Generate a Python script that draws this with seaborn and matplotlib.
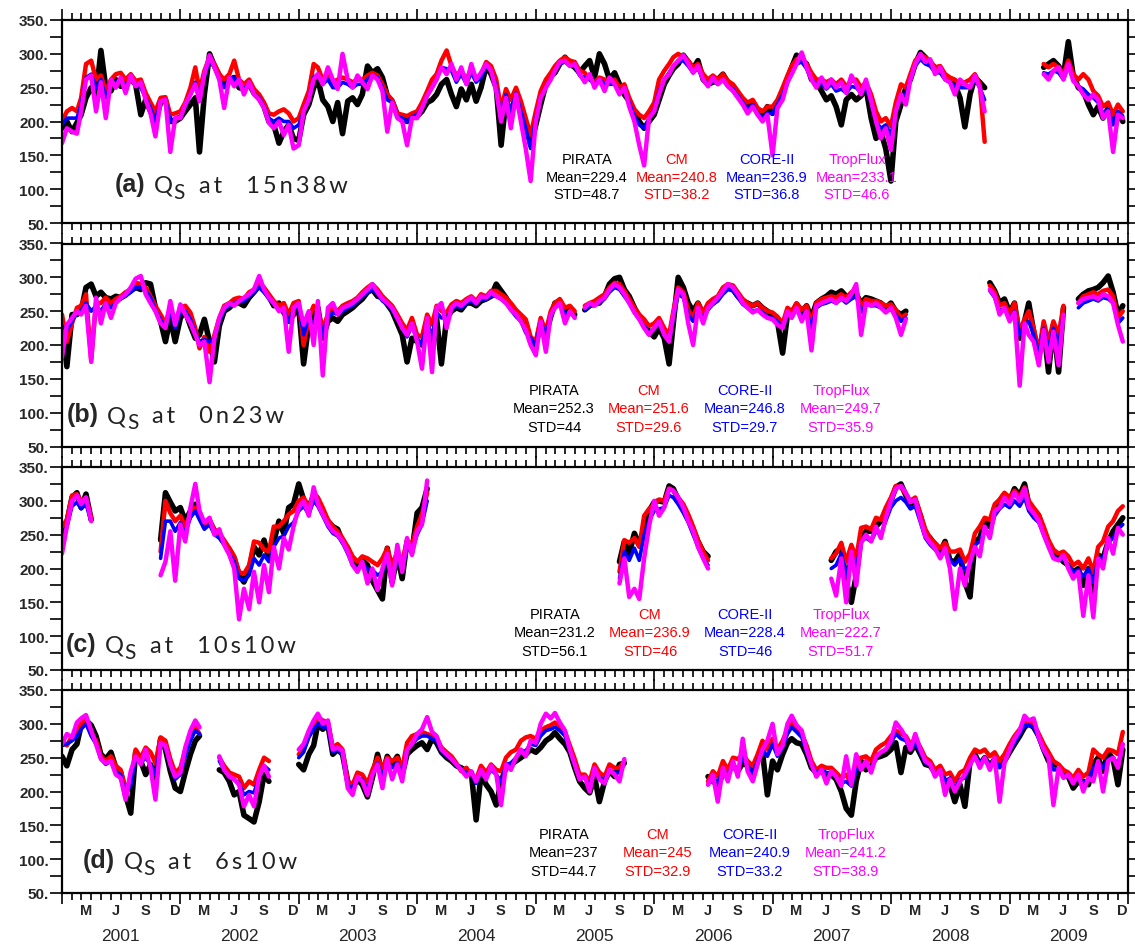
import numpy as np
import pandas as pd
import matplotlib
matplotlib.use("Agg")
import matplotlib.pyplot as plt
import matplotlib.dates as mdates
from matplotlib.ticker import MultipleLocator, FuncFormatter
import seaborn as sns

nan = np.nan

# Semi-monthly sampling dates (1st and 16th of each month), 2001-2009
dates = pd.to_datetime([f"{y}-{m:02d}-{d:02d}" for y in range(2001, 2010)
                        for m in range(1, 13) for d in (1, 16)])

# ---------------- (a) 15n38w ----------------
a_pirata = [
    190, 200, 185, 198, 210, 235, 250, 238, 305, 250, 245, 262, 252, 255, 262, 255, 210, 232, 215, 200, 228, 232, 200, 200,
    205, 215, 225, 235, 155, 240, 300, 282, 268, 255, 262, 265, 250, 248, 255, 242, 235, 222, 200, 195, 168, 185, 195, 175,
    172, 210, 225, 250, 262, 232, 222, 200, 228, 182, 230, 235, 225, 240, 282, 272, 278, 265, 238, 230, 210, 205, 200, 210,
    208, 215, 228, 232, 240, 255, 262, 240, 222, 248, 232, 255, 230, 250, 282, 270, 250, 165, 232, 210, 240, 218, 195, 165,
    195, 225, 255, 268, 272, 285, 295, 285, 280, 272, 282, 290, 265, 300, 285, 262, 272, 255, 240, 230, 215, 200, 190, 200,
    210, 232, 255, 268, 278, 285, 298, 288, 278, 290, 262, 255, 258, 262, 270, 258, 250, 240, 230, 225, 228, 212, 205, 222,
    212, 222, 240, 262, 280, 298, 290, 285, 262, 258, 245, 232, 238, 222, 195, 232, 240, 232, 238, 250, 205, 175, 185, 160,
    112, 200, 225, 250, 262, 285, 302, 295, 285, 280, 275, 265, 262, 255, 235, 192, 240, 265, 258, 250, nan, nan, nan, nan,
    nan, nan, nan, nan, nan, nan, nan, 280, 285, 290, 282, 268, 318, 268, 250, 245, 225, 210, 222, 205, 220, 200, 212, 200,
]
a_cm = [
    200, 215, 220, 215, 235, 285, 290, 262, 268, 245, 262, 270, 272, 262, 270, 260, 262, 242, 228, 215, 235, 236, 210, 212,
    215, 228, 250, 280, 245, 275, 295, 285, 270, 262, 270, 290, 262, 255, 262, 248, 240, 228, 212, 210, 215, 218, 212, 200,
    205, 225, 245, 285, 280, 262, 268, 258, 262, 265, 262, 258, 262, 262, 268, 272, 268, 255, 240, 232, 212, 210, 208, 212,
    215, 228, 245, 262, 270, 290, 305, 282, 268, 275, 262, 278, 262, 270, 288, 282, 262, 218, 248, 232, 250, 230, 205, 180,
    215, 245, 262, 272, 282, 290, 295, 290, 288, 275, 272, 262, 258, 265, 262, 258, 262, 250, 255, 235, 218, 210, 205, 215,
    228, 262, 275, 285, 295, 300, 295, 290, 280, 285, 270, 262, 268, 262, 270, 260, 255, 245, 235, 228, 232, 220, 215, 222,
    222, 232, 250, 268, 282, 292, 295, 285, 272, 262, 262, 258, 262, 255, 262, 252, 260, 262, 250, 258, 240, 215, 200, 205,
    193, 228, 255, 250, 270, 290, 298, 295, 290, 280, 282, 270, 265, 262, 255, 258, 262, 270, 255, 170, nan, nan, nan, nan,
    nan, nan, nan, nan, nan, nan, nan, 285, 280, 285, 280, 270, 290, 270, 262, 270, 262, 245, 238, 222, 228, 210, 225, 215,
]
a_core = [
    195, 205, 205, 205, 225, 265, 270, 250, 262, 235, 255, 258, 262, 252, 262, 255, 250, 235, 220, 200, 230, 232, 200, 205,
    208, 222, 240, 258, 235, 268, 290, 280, 262, 250, 262, 265, 255, 248, 255, 242, 235, 222, 205, 200, 205, 200, 200, 190,
    195, 215, 235, 265, 270, 255, 262, 250, 250, 258, 255, 250, 255, 255, 262, 268, 265, 250, 232, 228, 208, 205, 200, 207,
    210, 220, 238, 250, 262, 280, 278, 275, 258, 270, 255, 272, 258, 265, 282, 275, 252, 205, 240, 215, 242, 215, 190, 160,
    205, 235, 252, 262, 275, 285, 288, 282, 282, 268, 265, 262, 255, 262, 255, 255, 255, 245, 248, 228, 208, 195, 190, 205,
    218, 245, 262, 272, 282, 288, 290, 282, 272, 278, 262, 255, 260, 255, 262, 252, 248, 238, 228, 218, 225, 212, 205, 212,
    212, 225, 240, 258, 272, 285, 288, 278, 262, 255, 255, 248, 255, 245, 248, 242, 252, 250, 242, 250, 228, 200, 190, 195,
    180, 215, 240, 240, 262, 282, 292, 285, 282, 272, 272, 262, 258, 252, 250, 250, 250, 262, 250, 232, nan, nan, nan, nan,
    nan, nan, nan, nan, nan, nan, nan, 272, 270, 275, 272, 262, 282, 262, 252, 248, 240, 235, 228, 212, 218, 195, 215, 208,
]
a_tropflux = [
    168, 190, 185, 182, 215, 262, 268, 215, 258, 205, 262, 250, 265, 242, 268, 252, 258, 232, 212, 178, 230, 232, 155, 205,
    205, 225, 240, 255, 230, 270, 298, 280, 262, 220, 265, 252, 262, 240, 258, 240, 232, 220, 198, 190, 200, 180, 195, 160,
    165, 215, 232, 262, 270, 255, 280, 262, 248, 300, 262, 250, 268, 258, 248, 268, 262, 245, 185, 228, 205, 200, 165, 205,
    205, 220, 238, 250, 262, 280, 270, 285, 262, 280, 255, 285, 262, 272, 285, 275, 245, 200, 235, 190, 240, 200, 160, 112,
    200, 235, 250, 262, 275, 288, 290, 282, 285, 270, 258, 270, 250, 262, 245, 265, 255, 240, 250, 222, 200, 165, 135, 205,
    215, 240, 262, 270, 282, 290, 298, 285, 272, 282, 262, 252, 265, 255, 262, 252, 245, 235, 225, 212, 222, 210, 200, 210,
    150, 220, 232, 258, 270, 285, 302, 280, 262, 250, 265, 250, 262, 250, 258, 242, 268, 255, 240, 262, 230, 200, 175, 190,
    158, 215, 240, 225, 262, 285, 300, 288, 292, 270, 280, 262, 258, 240, 262, 255, 250, 268, 250, 215, nan, nan, nan, nan,
    nan, nan, nan, nan, nan, nan, nan, 270, 262, 275, 280, 262, 285, 260, 252, 240, 232, 240, 232, 205, 215, 155, 210, 205,
]

# ---------------- (b) 0n23w ----------------
b_pirata = [
    230, 168, 245, 245, 250, 285, 290, 272, 278, 270, 268, 272, 270, 275, 280, 285, 282, 292, 290, 255, 235, 205, 240, 205,
    240, 250, 228, 210, 215, 238, 205, 175, 228, 250, 255, 262, 262, 258, 270, 278, 288, 280, 272, 258, 262, 248, 235, 245,
    255, 172, 232, 245, 255, 210, 235, 240, 235, 245, 250, 255, 262, 268, 278, 282, 272, 270, 260, 250, 232, 215, 175, 210,
    205, 200, 228, 205, 240, 172, 240, 250, 255, 252, 262, 262, 258, 265, 268, 272, 290, 280, 270, 258, 248, 240, 232, 205,
    200, 232, 215, 242, 262, 265, 250, 252, 245, nan, 252, 258, 262, 262, 272, 290, 298, 300, 282, 272, 255, 242, 232, 220,
    212, 225, 210, 172, 232, 300, 285, 262, 250, 262, 245, 258, 262, 268, 282, 285, 282, 272, 265, 262, 258, 262, 255, 250,
    245, 235, 188, 245, 245, 260, 250, 258, 240, 262, 268, 272, 278, 275, 280, 272, 270, 275, 262, 270, 268, 265, 262, 255,
    262, 250, 245, 250, nan, nan, nan, nan, nan, nan, nan, nan, nan, nan, nan, nan, nan, nan, nan, nan, 292, 280, 262, 268,
    248, 262, 210, 235, 262, 220, 182, 225, 160, 230, 160, 255, nan, nan, 268, 275, 280, 282, 285, 292, 302, 278, 245, 258,
]
b_cm = [
    245, 205, 232, 255, 258, 275, 178, 262, 262, 270, 262, 268, 272, 278, 282, 292, 290, 285, 272, 258, 245, 232, 255, 232,
    255, 258, 248, 225, 195, 212, 190, 215, 240, 258, 262, 268, 270, 268, 278, 282, 292, 285, 275, 265, 258, 262, 245, 262,
    265, 200, 240, 258, 250, 225, 245, 255, 250, 258, 262, 265, 270, 278, 285, 290, 282, 272, 265, 258, 245, 232, 222, 240,
    215, 212, 245, 230, 258, 250, 248, 260, 265, 262, 268, 272, 265, 275, 272, 280, 280, 275, 270, 262, 252, 245, 238, 212,
    205, 240, 220, 250, 262, 268, 255, 258, 250, nan, 258, 262, 265, 270, 275, 285, 292, 290, 280, 268, 255, 245, 238, 228,
    232, 240, 225, 215, 250, 285, 278, 252, 240, 262, 248, 262, 268, 272, 285, 290, 288, 278, 268, 262, 258, 262, 255, 250,
    248, 242, 232, 255, 250, 262, 252, 258, 232, 262, 268, 270, 272, 270, 275, 270, 278, 282, 255, 268, 265, 265, 262, 258,
    260, 252, 240, 245, nan, nan, nan, nan, nan, nan, nan, nan, nan, nan, nan, nan, nan, nan, nan, nan, 288, 278, 258, 262,
    245, 262, 220, 238, 250, 225, 190, 235, 205, 235, 215, 258, nan, nan, 262, 272, 275, 278, 275, 280, 282, 272, 240, 250,
]
b_core = [
    228, 222, 235, 248, 250, 262, 250, 258, 250, 262, 255, 262, 268, 272, 278, 285, 285, 280, 270, 252, 238, 225, 250, 225,
    250, 250, 238, 218, 205, 208, 205, 210, 235, 252, 258, 262, 265, 265, 272, 278, 285, 278, 268, 260, 252, 252, 235, 252,
    258, 215, 240, 232, 248, 215, 240, 248, 245, 250, 255, 258, 265, 272, 278, 282, 275, 265, 260, 252, 238, 225, 212, 228,
    210, 200, 235, 210, 248, 240, 240, 252, 258, 255, 262, 265, 260, 268, 268, 272, 272, 268, 262, 252, 242, 235, 218, 210,
    200, 235, 215, 242, 255, 260, 245, 250, 242, nan, 252, 258, 258, 262, 268, 278, 285, 282, 272, 262, 248, 238, 228, 218,
    225, 232, 215, 205, 240, 275, 270, 245, 235, 252, 240, 252, 260, 265, 275, 282, 280, 270, 260, 255, 250, 252, 248, 242,
    240, 235, 225, 245, 242, 252, 242, 250, 225, 255, 260, 262, 265, 262, 268, 262, 268, 272, 248, 260, 258, 258, 255, 250,
    252, 245, 235, 240, nan, nan, nan, nan, nan, nan, nan, nan, nan, nan, nan, nan, nan, nan, nan, nan, 280, 270, 250, 255,
    238, 250, 215, 230, 235, 215, 188, 225, 195, 225, 200, 245, nan, nan, 255, 262, 265, 268, 265, 270, 268, 262, 232, 240,
]
b_tropflux = [
    182, 230, 240, 250, 245, 258, 175, 270, 232, 262, 240, 262, 270, 275, 285, 298, 302, 275, 262, 250, 232, 225, 265, 230,
    260, 245, 232, 215, 200, 205, 145, 210, 240, 255, 262, 258, 265, 270, 275, 282, 302, 282, 270, 262, 250, 255, 190, 255,
    262, 230, 250, 200, 265, 155, 255, 262, 245, 255, 258, 262, 268, 275, 282, 290, 278, 268, 262, 255, 240, 225, 215, 232,
    205, 165, 240, 160, 255, 262, 225, 255, 262, 258, 265, 270, 262, 272, 270, 278, 272, 268, 262, 252, 245, 235, 222, 200,
    185, 235, 190, 245, 255, 262, 232, 250, 240, nan, 255, 262, 258, 265, 270, 282, 290, 285, 275, 262, 248, 238, 225, 215,
    225, 235, 215, 205, 245, 282, 275, 232, 200, 255, 232, 255, 262, 270, 280, 290, 285, 275, 262, 255, 248, 252, 245, 240,
    238, 230, 225, 250, 240, 255, 235, 250, 192, 258, 262, 265, 268, 262, 270, 265, 275, 290, 215, 262, 258, 262, 255, 248,
    255, 240, 215, 238, nan, nan, nan, nan, nan, nan, nan, nan, nan, nan, nan, nan, nan, nan, nan, nan, 282, 272, 245, 255,
    235, 248, 140, 232, 215, 205, 170, 222, 175, 220, 170, 245, nan, nan, 262, 268, 270, 272, 268, 275, 272, 262, 230, 205,
]

# ---------------- (c) 10s10w ----------------
c_pirata = [
    240, 268, 305, 312, 290, 310, 272, nan, nan, nan, nan, nan, nan, nan, nan, nan, nan, nan, nan, nan, 242, 312, 298, 285,
    290, 270, 285, 295, 282, 262, 270, 255, 248, 238, 228, 215, 190, 180, 198, 232, 220, 242, 215, 240, 270, 252, 290, 295,
    325, 302, 290, 308, 300, 282, 270, 262, 258, 240, 230, 210, 200, 212, 205, 182, 168, 155, 230, 180, 220, 185, 240, 225,
    282, 290, 318, nan, nan, nan, nan, nan, nan, nan, nan, nan, nan, nan, nan, nan, nan, nan, nan, nan, nan, nan, nan, nan,
    nan, nan, nan, nan, nan, nan, nan, nan, nan, nan, nan, nan, nan, nan, nan, nan, nan, 210, 240, 222, 252, 235, 260, 285,
    298, 300, 298, 322, 318, 302, 290, 275, 258, 240, 225, 218, nan, nan, nan, nan, nan, nan, nan, nan, nan, nan, nan, nan,
    nan, nan, nan, nan, nan, nan, nan, nan, nan, nan, nan, nan, 212, 225, 230, 182, 150, 190, 245, 255, 255, 262, 270, 285,
    300, 320, 325, 308, 295, 300, 278, 252, 245, 235, 225, 240, 212, 210, 222, 180, 158, 240, 245, 270, 262, 290, 300, 310,
    300, 318, 308, 325, 295, 285, 278, 255, 238, 225, 218, 210, 205, 195, 200, 175, 200, 165, 220, 215, 240, 255, 265, 275,
]
c_cm = [
    262, 272, 308, 310, 300, 305, 275, nan, nan, nan, nan, nan, nan, nan, nan, nan, nan, nan, nan, nan, 225, 300, 282, 270,
    278, 262, 280, 290, 278, 265, 272, 258, 252, 242, 230, 218, 195, 192, 205, 240, 238, 228, 225, 262, 262, 270, 280, 285,
    300, 305, 290, 312, 305, 290, 272, 262, 255, 245, 232, 218, 210, 218, 215, 210, 205, 215, 230, 205, 225, 210, 242, 235,
    262, 280, 312, nan, nan, nan, nan, nan, nan, nan, nan, nan, nan, nan, nan, nan, nan, nan, nan, nan, nan, nan, nan, nan,
    nan, nan, nan, nan, nan, nan, nan, nan, nan, nan, nan, nan, nan, nan, nan, nan, nan, 195, 242, 238, 245, 232, 278, 288,
    295, 302, 300, 318, 315, 305, 295, 280, 262, 242, 225, 212, nan, nan, nan, nan, nan, nan, nan, nan, nan, nan, nan, nan,
    nan, nan, nan, nan, nan, nan, nan, nan, nan, nan, nan, nan, 215, 222, 238, 210, 235, 215, 260, 262, 258, 275, 272, 290,
    305, 322, 320, 310, 300, 305, 280, 258, 245, 238, 230, 238, 225, 225, 228, 210, 222, 252, 262, 275, 272, 295, 302, 312,
    305, 315, 305, 320, 300, 290, 280, 262, 242, 228, 222, 225, 218, 205, 210, 200, 215, 195, 232, 240, 262, 270, 285, 292,
]
c_core = [
    245, 262, 292, 298, 288, 295, 270, nan, nan, nan, nan, nan, nan, nan, nan, nan, nan, nan, nan, nan, 215, 270, 270, 255,
    268, 252, 275, 285, 272, 258, 265, 250, 245, 235, 222, 210, 185, 182, 190, 215, 205, 220, 210, 232, 245, 248, 262, 268,
    285, 292, 280, 300, 292, 278, 262, 252, 248, 238, 222, 205, 198, 205, 200, 198, 190, 195, 215, 188, 215, 198, 230, 225,
    250, 265, 300, nan, nan, nan, nan, nan, nan, nan, nan, nan, nan, nan, nan, nan, nan, nan, nan, nan, nan, nan, nan, nan,
    nan, nan, nan, nan, nan, nan, nan, nan, nan, nan, nan, nan, nan, nan, nan, nan, nan, 185, 225, 212, 230, 212, 250, 270,
    285, 288, 290, 308, 305, 295, 282, 268, 250, 232, 215, 205, nan, nan, nan, nan, nan, nan, nan, nan, nan, nan, nan, nan,
    nan, nan, nan, nan, nan, nan, nan, nan, nan, nan, nan, nan, 200, 205, 222, 190, 218, 200, 240, 245, 240, 255, 250, 270,
    290, 300, 305, 298, 288, 292, 268, 245, 235, 228, 220, 228, 212, 205, 215, 198, 205, 235, 240, 258, 252, 278, 288, 295,
    290, 300, 292, 305, 285, 275, 268, 250, 232, 218, 212, 215, 205, 195, 198, 188, 200, 180, 215, 215, 238, 245, 258, 265,
]
c_tropflux = [
    222, 262, 300, 308, 295, 305, 270, nan, nan, nan, nan, nan, nan, nan, nan, nan, nan, nan, nan, nan, 190, 210, 255, 182,
    265, 240, 290, 325, 285, 268, 275, 250, 258, 235, 220, 200, 125, 170, 140, 195, 150, 205, 165, 232, 200, 245, 228, 262,
    290, 300, 278, 320, 295, 280, 265, 255, 250, 240, 225, 205, 195, 210, 178, 200, 168, 200, 222, 175, 235, 195, 245, 220,
    255, 265, 330, nan, nan, nan, nan, nan, nan, nan, nan, nan, nan, nan, nan, nan, nan, nan, nan, nan, nan, nan, nan, nan,
    nan, nan, nan, nan, nan, nan, nan, nan, nan, nan, nan, nan, nan, nan, nan, nan, nan, 178, 215, 158, 170, 155, 215, 262,
    300, 278, 290, 318, 315, 305, 290, 270, 255, 232, 215, 200, nan, nan, nan, nan, nan, nan, nan, nan, nan, nan, nan, nan,
    nan, nan, nan, nan, nan, nan, nan, nan, nan, nan, nan, nan, 185, 160, 215, 150, 225, 175, 238, 250, 240, 262, 245, 275,
    300, 318, 322, 312, 298, 302, 272, 248, 238, 230, 215, 230, 200, 140, 200, 175, 210, 232, 218, 262, 245, 285, 290, 305,
    295, 312, 300, 318, 290, 282, 270, 250, 232, 215, 212, 220, 200, 185, 195, 130, 190, 128, 215, 200, 245, 222, 260, 250,
]

# ---------------- (d) 6s10w ----------------
d_pirata = [
    252, 238, 262, 270, 298, 305, 298, 282, 255, 248, 258, 235, 228, 195, 168, 258, 245, 225, 240, 220, 278, 262, 230, 205,
    200, 228, 255, 275, 282, nan, nan, nan, 232, 228, 215, 195, 200, 165, 160, 155, 185, 225, 215, nan, nan, nan, nan, nan,
    240, 232, 255, 268, 300, 292, 298, 255, 262, 255, 215, 205, 218, 210, 192, 220, 255, 225, 252, 240, 252, 225, 255, 262,
    268, 272, 262, 278, 272, 258, 250, 245, 238, 235, 230, 228, 158, 225, 210, 200, 180, 215, 235, 240, 245, 250, 255, 262,
    258, 265, 275, 280, 287, 278, 270, 258, 235, 215, 205, 198, 222, 185, 215, 230, 222, 240, 242, nan, nan, nan, nan, nan,
    nan, nan, nan, nan, nan, nan, nan, nan, nan, nan, nan, 222, 215, 210, 225, 228, 238, 230, 242, 238, 225, 245, 258, 195,
    245, 232, 255, 272, 278, 272, 270, 255, 235, 228, 230, 225, 225, 218, 200, 175, 165, 215, 245, 232, 238, 250, 252, 255,
    262, 272, 228, 265, 258, 270, 255, 240, 238, 228, 230, 215, 210, 185, 210, 178, 245, 255, 240, 250, 238, 248, 240, 245,
    258, 270, 282, 295, 300, 295, 282, 262, 245, 240, 238, 225, 222, 205, 215, 215, 210, 240, 250, 230, 258, 248, 210, 262,
]
d_cm = [
    275, 268, 282, 285, 300, 308, 285, 275, 252, 245, 252, 238, 232, 205, 215, 262, 250, 265, 258, 242, 280, 275, 248, 228,
    235, 262, 278, 295, 285, nan, nan, nan, 250, 238, 228, 225, 222, 205, 215, 210, 232, 250, 245, nan, nan, nan, nan, nan,
    255, 262, 282, 298, 310, 305, 302, 265, 270, 262, 215, 210, 228, 225, 212, 232, 250, 235, 250, 245, 250, 235, 272, 282,
    285, 288, 285, 282, 280, 265, 258, 252, 242, 230, 235, 225, 218, 238, 228, 240, 232, 230, 250, 258, 262, 275, 280, 282,
    278, 290, 295, 298, 302, 295, 288, 268, 248, 225, 225, 215, 240, 228, 222, 240, 235, 235, 245, nan, nan, nan, nan, nan,
    nan, nan, nan, nan, nan, nan, nan, nan, nan, nan, nan, 215, 230, 222, 245, 232, 250, 248, 255, 245, 238, 255, 275, 262,
    278, 262, 275, 292, 302, 295, 285, 268, 245, 232, 238, 235, 235, 228, 220, 225, 212, 245, 250, 252, 245, 262, 268, 272,
    282, 290, 285, 282, 270, 278, 265, 250, 245, 232, 238, 225, 228, 215, 228, 232, 250, 262, 258, 262, 252, 258, 245, 255,
    270, 282, 292, 302, 305, 300, 285, 270, 258, 245, 240, 232, 228, 220, 232, 222, 228, 262, 255, 250, 262, 260, 255, 288,
]
d_core = [
    268, 270, 275, 282, 292, 300, 282, 270, 248, 240, 245, 228, 225, 195, 210, 250, 242, 250, 240, 225, 270, 265, 240, 218,
    225, 252, 275, 290, 285, nan, nan, nan, 245, 232, 222, 218, 212, 195, 200, 198, 222, 238, 232, nan, nan, nan, nan, nan,
    250, 258, 280, 292, 300, 295, 295, 258, 262, 255, 210, 205, 220, 218, 202, 225, 242, 225, 242, 235, 242, 225, 262, 270,
    278, 282, 282, 278, 275, 260, 252, 248, 238, 232, 228, 226, 212, 230, 220, 232, 225, 215, 240, 242, 250, 260, 260, 270,
    268, 282, 290, 292, 295, 290, 282, 260, 240, 220, 220, 210, 232, 220, 218, 232, 228, 228, 240, nan, nan, nan, nan, nan,
    nan, nan, nan, nan, nan, nan, nan, nan, nan, nan, nan, 210, 222, 212, 232, 225, 240, 232, 250, 238, 228, 245, 262, 252,
    270, 252, 265, 285, 295, 288, 280, 258, 240, 228, 232, 228, 228, 222, 212, 215, 208, 232, 238, 240, 235, 250, 258, 262,
    272, 285, 278, 275, 262, 272, 258, 242, 240, 225, 232, 215, 220, 205, 218, 220, 240, 252, 242, 250, 238, 248, 235, 245,
    260, 272, 285, 298, 298, 295, 278, 260, 250, 232, 232, 225, 222, 215, 222, 212, 218, 235, 242, 235, 248, 250, 240, 270,
]
d_tropflux = [
    270, 285, 280, 302, 308, 313, 290, 270, 248, 242, 245, 225, 220, 188, 230, 252, 240, 262, 235, 188, 272, 268, 240, 222,
    228, 265, 290, 305, 295, nan, nan, nan, 252, 232, 222, 218, 210, 178, 195, 178, 222, 238, 222, nan, nan, nan, nan, nan,
    262, 270, 290, 305, 315, 300, 305, 262, 265, 260, 205, 195, 222, 215, 195, 225, 240, 205, 248, 218, 240, 215, 262, 270,
    285, 292, 310, 288, 282, 262, 255, 248, 240, 232, 222, 230, 215, 232, 218, 238, 225, 180, 240, 232, 250, 262, 252, 275,
    272, 300, 315, 308, 316, 302, 290, 262, 240, 218, 222, 200, 235, 218, 212, 232, 225, 215, 248, nan, nan, nan, nan, nan,
    nan, nan, nan, nan, nan, nan, nan, nan, nan, nan, nan, 210, 225, 185, 235, 215, 245, 222, 278, 230, 215, 240, 262, 275,
    300, 255, 268, 300, 312, 298, 290, 262, 240, 222, 232, 212, 230, 222, 208, 252, 210, 255, 232, 245, 228, 252, 258, 262,
    275, 302, 292, 280, 262, 285, 262, 245, 240, 222, 232, 195, 218, 200, 215, 225, 240, 252, 235, 250, 232, 250, 185, 242,
    262, 278, 290, 312, 305, 308, 280, 262, 250, 180, 235, 220, 225, 212, 225, 200, 220, 215, 245, 200, 245, 250, 235, 270,
]

# Summary statistics printed in each panel (PIRATA, CM, CORE-II, TropFlux)
series_names = ["PIRATA", "CM", "CORE-II", "TropFlux"]
mean_a = [229.4, 240.8, 236.9, 233.1]
std_a = [48.7, 38.2, 36.8, 46.6]
mean_b = [252.3, 251.6, 246.8, 249.7]
std_b = [44, 29.6, 29.7, 35.9]
mean_c = [231.2, 236.9, 228.4, 222.7]
std_c = [56.1, 46, 46, 51.7]
mean_d = [237, 245, 240.9, 241.2]
std_d = [44.7, 32.9, 33.2, 38.9]

panel_letters = ["a", "b", "c", "d"]
panel_sites = ["15n38w", "0n23w", "10s10w", "6s10w"]
month_letters = ["M", "J", "S", "D"]
years = list(range(2001, 2010))

# ---------------- styling ----------------
sns.set_style("ticks")
plt.rcParams["font.family"] = ["Liberation Sans", "DejaVu Sans"]

colors = ["#000000", "#ff0000", "#0000ff", "#ff00ff"]
widths = [4.0, 3.2, 2.6, 3.2]
thin_font = ["Lato", "DejaVu Sans"]

W, H = 1135, 945
AX_LEFT, AX_W, AX_H = 62, 1066, 203
AX_TOPS = [21, 244.5, 468, 691]

# layout of the text blocks, in pixels relative to each panel
title_pos = [(53, 27), (5, 20), (4, 14), (21, 21)]
stat_cols = [[587, 677, 767, 857], [554, 649, 745, 841],
             [555, 650, 745, 841], [564, 658, 750, 846]]
stat_rows = [[64, 46, 29], [56, 38, 19], [56, 38, 19], [59, 41, 22]]

panels = [
    ([a_pirata, a_cm, a_core, a_tropflux], mean_a, std_a),
    ([b_pirata, b_cm, b_core, b_tropflux], mean_b, std_b),
    ([c_pirata, c_cm, c_core, c_tropflux], mean_c, std_c),
    ([d_pirata, d_cm, d_core, d_tropflux], mean_d, std_d),
]


def draw_series(ax, values, color, lw):
    v = np.asarray(values, dtype=float)
    seg = np.cumsum(np.isnan(v))
    df = pd.DataFrame({"date": dates, "Qs": v, "seg": seg}).dropna()
    sns.lineplot(data=df, x="date", y="Qs", units="seg", estimator=None,
                 color=color, linewidth=lw, ax=ax, legend=False,
                 solid_joinstyle="round", solid_capstyle="round")


def spaced(s):
    return "\u2009".join(s)


fig = plt.figure(figsize=(W / 100, H / 100), dpi=100)
axes = []
for i, (series, means, stds) in enumerate(panels):
    ax = fig.add_axes([AX_LEFT / W, 1 - (AX_TOPS[i] + AX_H) / H, AX_W / W, AX_H / H])
    axes.append(ax)
    for vals, col, lw in zip(series, colors, widths):
        draw_series(ax, vals, col, lw)

    ax.set_xlim(mdates.date2num(pd.Timestamp("2001-01-01")),
                mdates.date2num(pd.Timestamp("2010-01-01")))
    ax.set_ylim(50, 350)
    ax.set_xlabel("")
    ax.set_ylabel("")
    ax.xaxis.set_major_locator(mdates.YearLocator())
    ax.xaxis.set_minor_locator(mdates.MonthLocator())
    ax.yaxis.set_major_locator(MultipleLocator(50))
    ax.yaxis.set_minor_locator(MultipleLocator(25))
    ax.yaxis.set_major_formatter(FuncFormatter(lambda v, p: f"{v:.0f}."))
    ax.tick_params(axis="x", which="both", bottom=True, top=True,
                   labelbottom=False, direction="out", width=1.2, color="black")
    ax.tick_params(axis="x", which="major", length=8)
    ax.tick_params(axis="x", which="minor", length=5)
    ax.tick_params(axis="y", which="both", left=True, right=True,
                   direction="out", length=8.5, width=1.2, color="black")
    ax.tick_params(axis="y", which="major", labelsize=11, pad=1)
    for lbl in ax.get_yticklabels():
        lbl.set_fontweight("bold")
    for sp in ax.spines.values():
        sp.set_visible(True)
        sp.set_linewidth(1.6)
        sp.set_color("black")

    # panel title: "(a) Q_S at site"
    tx, ty = title_pos[i]
    t1 = ax.text(tx / AX_W, ty / AX_H, f"({panel_letters[i]})", transform=ax.transAxes,
                 fontsize=18, fontweight="bold", ha="left", va="bottom")
    t2 = ax.annotate("Q", xy=(1, 0), xycoords=t1, xytext=(6, 0), textcoords="offset points",
                     fontsize=17, family=thin_font, fontweight="normal", color="#222222",
                     ha="left", va="bottom")
    t3 = ax.annotate("S", xy=(1, 0), xycoords=t2, xytext=(0.5, -4), textcoords="offset points",
                     fontsize=15, family=thin_font, fontweight="normal", color="#222222",
                     ha="left", va="bottom")
    ax.annotate(spaced("at") + "    " + spaced(panel_sites[i]), xy=(1, 0), xycoords=(t3, t2),
                xytext=(10, 0), textcoords="offset points",
                fontsize=17, family=thin_font, fontweight="normal", color="#222222",
                ha="left", va="bottom")

    # statistics block
    for j in range(4):
        cx = (stat_cols[i][j] - AX_LEFT) / AX_W
        lines = [series_names[j], f"Mean={means[j]:g}", f"STD={stds[j]:g}"]
        for k, s in enumerate(lines):
            ax.text(cx, stat_rows[i][k] / AX_H, s, transform=ax.transAxes,
                    ha="center", va="center", color=colors[j], fontsize=10.5)

# month and year labels below the bottom panel
axb = axes[-1]
xt = axb.get_xaxis_transform()
for yr in years:
    for m, letter in zip((3, 6, 9, 12), month_letters):
        axb.text(mdates.date2num(pd.Timestamp(yr, m, 15)), -17 / AX_H, letter, transform=xt,
                 ha="center", va="center", fontsize=10.5, fontweight="bold")
    axb.text(mdates.date2num(pd.Timestamp(yr, 7, 1)), -43 / AX_H, str(yr), transform=xt,
             ha="center", va="center", fontsize=12.5)

fig.savefig("out.png", dpi=100)
